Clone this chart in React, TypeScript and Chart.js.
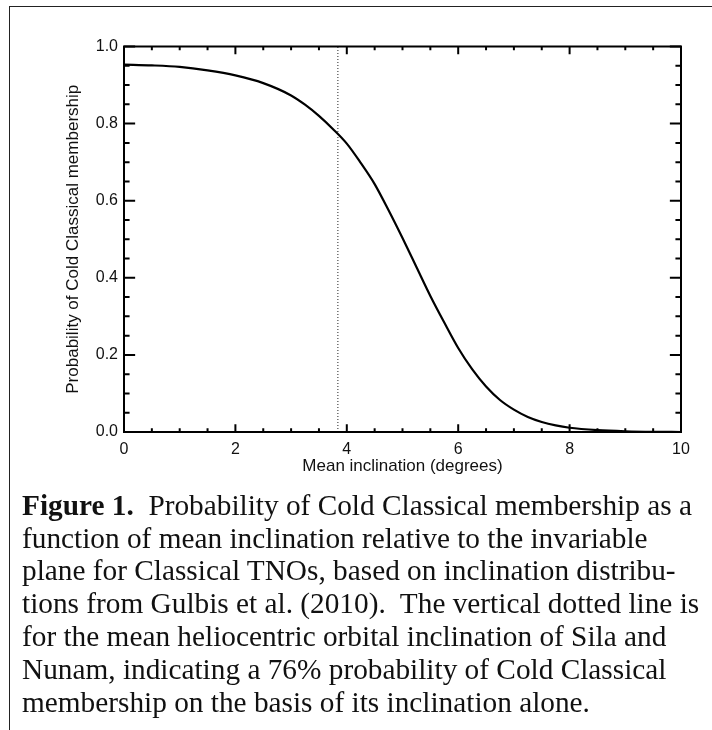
import React, { useEffect, useRef } from "react";
import { Chart, registerables } from "chart.js";

Chart.register(...registerables);

// ---- data ----
const INCLINATION = [
  0, 0.5, 1, 1.5, 2, 2.5, 3, 3.25, 3.5, 3.75, 4, 4.25, 4.5, 4.75, 5, 5.25, 5.5, 5.75,
  6, 6.25, 6.5, 6.75, 7, 7.25, 7.5, 7.75, 8, 8.5, 9, 9.5, 10,
];
const PROBABILITY = [
  0.953, 0.951, 0.947, 0.938, 0.925, 0.905, 0.873, 0.849, 0.82, 0.786, 0.748, 0.698, 0.643, 0.575, 0.503, 0.428, 0.353, 0.284,
  0.218, 0.163, 0.118, 0.083, 0.058, 0.039, 0.026, 0.017, 0.011, 0.005, 0.002, 0.0005, 0.0,
];
const SILA_NUNAM_INCLINATION = 3.84;
const DOTTED_LINE_Y = [0, 1];

const X_RANGE = [0, 10];
const Y_RANGE = [0, 1];
const X_MAJOR_TICKS = [0, 2, 4, 6, 8, 10];
const Y_MAJOR_TICKS = [0, 0.2, 0.4, 0.6, 0.8, 1.0];
const X_MINOR_STEP = 0.5;
const Y_MINOR_STEP = 0.05;

const X_TITLE = "Mean inclination (degrees)";
const Y_TITLE = "Probability of Cold Classical membership";

const CAPTION_LABEL = "Figure 1.";
const CAPTION_LINES = [
  "  Probability of Cold Classical membership as a",
  "function of mean inclination relative to the invariable",
  "plane for Classical TNOs, based on inclination distribu-",
  "tions from Gulbis et al. (2010).  The vertical dotted line is",
  "for the mean heliocentric orbital inclination of Sila and",
  "Nunam, indicating a 76% probability of Cold Classical",
  "membership on the basis of its inclination alone.",
];

const SANS = "'Liberation Sans', Arial, Helvetica, sans-serif";
const SERIF = "'Liberation Serif', 'Times New Roman', serif";

const framePlugin = {
  id: "idlFrame",
  afterDatasetsDraw(chart: any) {
    const { ctx, chartArea: a, scales } = chart;
    const x = scales.x;
    const y = scales.y;
    ctx.save();
    ctx.strokeStyle = "#000";
    ctx.lineWidth = 2;
    ctx.strokeRect(a.left, a.top, a.right - a.left, a.bottom - a.top);
    const xLen = (a.bottom - a.top) * 0.02;
    const yLen = (a.right - a.left) * 0.02;
    ctx.beginPath();
    const nx = Math.round((X_RANGE[1] - X_RANGE[0]) / X_MINOR_STEP);
    for (let i = 0; i <= nx; i++) {
      const v = X_RANGE[0] + i * X_MINOR_STEP;
      const major = X_MAJOR_TICKS.some((m) => Math.abs(m - v) < 1e-6);
      const len = major ? xLen : xLen / 2;
      const px = x.getPixelForValue(v);
      ctx.moveTo(px, a.bottom);
      ctx.lineTo(px, a.bottom - len);
      ctx.moveTo(px, a.top);
      ctx.lineTo(px, a.top + len);
    }
    const ny = Math.round((Y_RANGE[1] - Y_RANGE[0]) / Y_MINOR_STEP);
    for (let i = 0; i <= ny; i++) {
      const v = Y_RANGE[0] + i * Y_MINOR_STEP;
      const major = Y_MAJOR_TICKS.some((m) => Math.abs(m - v) < 1e-6);
      const len = major ? yLen : yLen / 2;
      const py = y.getPixelForValue(v);
      ctx.moveTo(a.left, py);
      ctx.lineTo(a.left + len, py);
      ctx.moveTo(a.right, py);
      ctx.lineTo(a.right - len, py);
    }
    ctx.stroke();
    ctx.restore();
  },
};

export default function App() {
  const canvasRef = useRef<HTMLCanvasElement | null>(null);

  useEffect(() => {
    const canvas = canvasRef.current;
    if (!canvas) return;
    const chart = new Chart(canvas, {
      type: "line",
      data: {
        datasets: [
          {
            label: "Probability",
            data: INCLINATION.map((v, i) => ({ x: v, y: PROBABILITY[i] })),
            borderColor: "#000",
            borderWidth: 2.2,
            pointRadius: 0,
            fill: false,
            cubicInterpolationMode: "monotone",
          },
          {
            label: "Sila-Nunam",
            data: DOTTED_LINE_Y.map((v) => ({ x: SILA_NUNAM_INCLINATION, y: v })),
            borderColor: "#222",
            borderWidth: 1,
            borderDash: [1, 2],
            pointRadius: 0,
            fill: false,
          },
        ],
      },
      options: {
        animation: false,
        responsive: false,
        devicePixelRatio: 1,
        layout: { padding: { left: 0, right: 31, top: 46.5, bottom: 248 } },
        plugins: { legend: { display: false }, tooltip: { enabled: false } },
        scales: {
          x: {
            type: "linear",
            min: X_RANGE[0],
            max: X_RANGE[1],
            afterFit(scale: any) {
              scale.height = 50;
            },
            afterBuildTicks(scale: any) {
              scale.ticks = X_MAJOR_TICKS.map((v) => ({ value: v }));
            },
            grid: { display: false, drawTicks: false },
            border: { display: false },
            ticks: {
              padding: 8,
              color: "#111",
              font: { family: SANS, size: 16 },
              maxRotation: 0,
              callback: (v: any) => String(v),
            },
            title: {
              display: true,
              text: X_TITLE,
              color: "#111",
              font: { family: SANS, size: 17 },
              padding: { top: 0, bottom: 5 },
            },
          },
          y: {
            type: "linear",
            min: Y_RANGE[0],
            max: Y_RANGE[1],
            afterFit(scale: any) {
              scale.width = 124;
            },
            afterBuildTicks(scale: any) {
              scale.ticks = Y_MAJOR_TICKS.map((v) => ({ value: v }));
            },
            grid: { display: false, drawTicks: false },
            border: { display: false },
            ticks: {
              padding: 6,
              color: "#111",
              font: { family: SANS, size: 16 },
              callback: (v: any) => Number(v).toFixed(1),
            },
            title: {
              display: true,
              text: Y_TITLE,
              color: "#111",
              font: { family: SANS, size: 17 },
              padding: { top: 63, bottom: 0 },
            },
          },
        },
      },
      plugins: [framePlugin],
    });
    return () => chart.destroy();
  }, []);

  return (
    <div style={{ position: "absolute", left: 0, top: 0, width: 712, height: 730, background: "#fff", overflow: "hidden" }}>
      <div style={{ position: "absolute", left: 9, top: 6, width: 703, height: 1.3, background: "#222" }} />
      <div style={{ position: "absolute", left: 8.5, top: 6, width: 1.3, height: 724, background: "#222" }} />
      <canvas
        ref={canvasRef}
        width={712}
        height={730}
        style={{ position: "absolute", left: 0, top: 0, width: 712, height: 730 }}
      />
      <div
        style={{
          position: "absolute",
          left: 22,
          top: 488.8,
          fontFamily: SERIF,
          fontSize: 29.3,
          lineHeight: "32.8px",
          color: "#111",
          whiteSpace: "pre",
        }}
      >
        {CAPTION_LINES.map((line, i) => (
          <div key={i}>
            {i === 0 ? <b>{CAPTION_LABEL}</b> : null}
            {line}
          </div>
        ))}
      </div>
    </div>
  );
}
